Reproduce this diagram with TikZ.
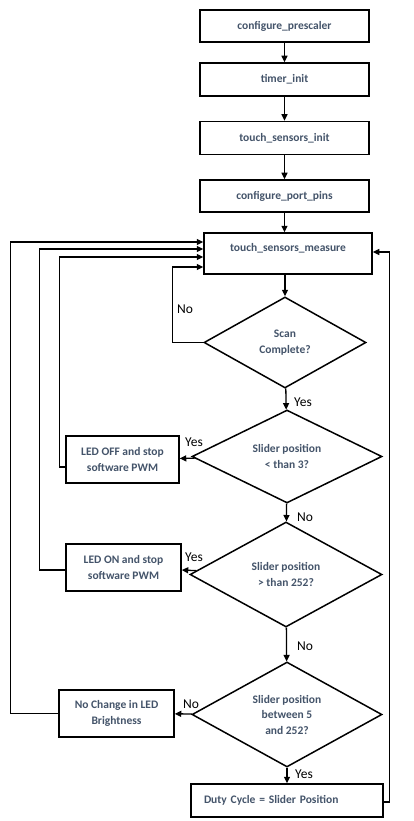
\documentclass[tikz,border=0pt]{standalone}
\usepackage{fontspec}
\setmainfont{Carlito}
\usetikzlibrary{shapes.geometric,arrows.meta}
\definecolor{boxtext}{RGB}{68,84,106}
\tikzset{
  procbox/.style={draw,line width=1.5pt,fill=white,inner sep=0pt,align=center,
    text=boxtext,font=\bfseries\fontsize{11.5}{15.5}\selectfont},
  decbox/.style={draw,diamond,aspect=2,line width=1.5pt,fill=white,inner sep=0pt,align=center,
    text=boxtext,font=\bfseries\fontsize{11.5}{15.5}\selectfont},
  flowline/.style={line width=1.3pt,-{Triangle[length=6.5pt,width=6pt]}},
  anslabel/.style={font=\fontsize{13.5}{15}\selectfont}
}
\newcommand{\procnode}[6]{\node[procbox,minimum width=#3pt,minimum height=#4pt] (#5) at (#1,#2) {#6};}
\newcommand{\decnode}[6]{\node[decbox,minimum width=#3pt,minimum height=#4pt] (#5) at (#1,#2) {#6};}
\newcommand{\flowedge}[2]{\draw[flowline] (#1) -- (#2);}

\begin{document}
\begin{tikzpicture}[x=1pt,y=-1pt]
  \fill[white] (0,0) rectangle (414,821);
  \useasboundingbox (0,0) rectangle (414,821);
  % start-up chain
  \procnode{284.5}{26}{169}{32}{cp}{configure\_prescaler}
  \procnode{284.5}{79.5}{169}{33}{ti}{timer\_init}
  \procnode{284.5}{138}{169}{33}{tsi}{touch\_sensors\_init}
  \procnode{284.5}{196}{169}{32}{cpp}{configure\_port\_pins}
  \node[procbox,minimum width=168pt,minimum height=41pt,text depth=12pt] (tsm) at (288,253.5) {touch\_sensors\_measure};
  % decisions
  \decnode{285}{342.5}{162}{91}{scan}{Scan\\Complete?}
  \decnode{287}{456.5}{190}{93}{low}{Slider position\\< than 3?}
  \decnode{286}{574.5}{192}{105}{high}{Slider position\\> than 252?}
  \decnode{287}{714.5}{190}{105}{mid}{Slider position\\between 5\\and 252?}
  % actions
  \procnode{122.5}{459.5}{113}{47}{off}{LED OFF and stop\\software PWM}
  \procnode{123.5}{567.5}{115}{47}{on}{LED ON and stop\\software PWM}
  \procnode{116.5}{713.5}{115}{47}{same}{No Change in LED\\Brightness}
  \node[procbox,minimum width=192pt,minimum height=33pt,text width=166pt,inner xsep=13pt,align=left] (duty) at (287,800.5) {Duty Cycle = Slider Position};
  % forward flow
  \flowedge{cp}{ti}
  \flowedge{ti}{tsi}
  \flowedge{tsi}{cpp}
  \draw[flowline] (cpp.south) -- (cpp.south |- tsm.north);
  \draw[flowline] (tsm.south -| scan.north) -- (scan.north);
  \flowedge{scan}{low}
  \flowedge{low}{high}
  \flowedge{high}{mid}
  \flowedge{mid}{duty}
  \flowedge{low}{off}
  \flowedge{high}{on}
  \flowedge{mid}{same}
  % loops back to measuring
  \draw[flowline] (scan.west) -- ++(-31,0) |- ([yshift=-13.5pt]tsm.west);
  \draw[flowline] ([yshift=-7.5pt]off.west) -- ++(-5.5,0) |- ([yshift=-3.5pt]tsm.west);
  \draw[flowline] ([yshift=-2.5pt]on.west) -- ++(-25.5,0) |- ([yshift=4.5pt]tsm.west);
  \draw[flowline] (same.west) -- ++(-48,0) |- ([yshift=11.5pt]tsm.west);
  \draw[flowline] ([yshift=-1.5pt]duty.east) -- ++(6,0) |- ([yshift=1.5pt]tsm.east);
  % answers
  \node[anslabel] (n1) at (185,309) {No};
  \node[anslabel] (y1) at (303,402) {Yes};
  \node[anslabel] (y2) at (194,442) {Yes};
  \node[anslabel] (n2) at (305,517) {No};
  \node[anslabel] (y3) at (194,557) {Yes};
  \node[anslabel] (n3) at (305,646) {No};
  \node[anslabel] (n4) at (191,704) {No};
  \node[anslabel] (y4) at (304,774) {Yes};
\end{tikzpicture}
\end{document}
